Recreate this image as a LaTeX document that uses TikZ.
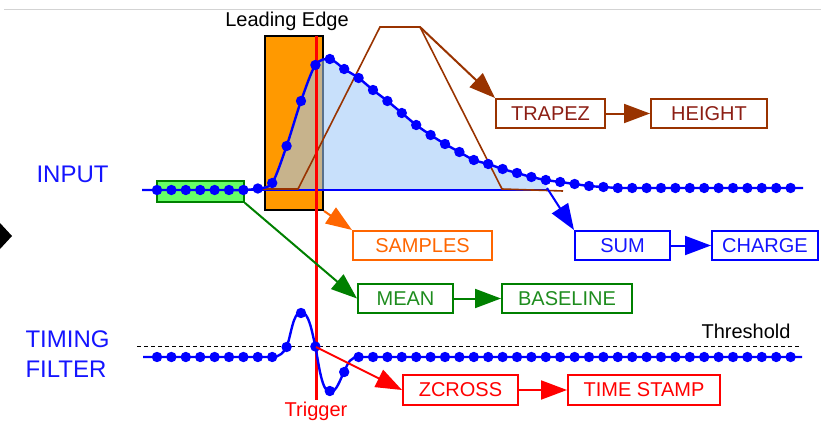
\documentclass[tikz,border=0pt]{standalone}
\usepackage{fontspec}
\setmainfont{Liberation Sans}
\usetikzlibrary{arrows.meta}
\definecolor{sigblue}{RGB}{0,0,255}
\definecolor{txtblue}{RGB}{20,20,255}
\definecolor{areablue}{RGB}{157,200,248}
\definecolor{leadorange}{RGB}{255,153,0}
\definecolor{arrorange}{RGB}{255,102,0}
\definecolor{trapbrown}{RGB}{153,51,0}
\definecolor{traptext}{RGB}{140,30,20}
\definecolor{meangreen}{RGB}{0,128,0}
\definecolor{meantext}{RGB}{30,140,30}
\definecolor{winfill}{RGB}{102,255,102}
\definecolor{rulegray}{RGB}{211,211,211}
\begin{document}
\begin{tikzpicture}[x=1pt,y=-1pt,
  box/.style={draw, line width=2pt, inner sep=0pt, minimum height=29pt,
              font=\fontsize{20}{22}\selectfont},
  link/.style={line width=2pt, -{Triangle[length=26pt,width=19pt]}},
  biglabel/.style={anchor=west, text=txtblue, font=\fontsize{24}{26}\selectfont},
  smalllabel/.style={font=\fontsize{20}{22}\selectfont},
  sig/.style={sigblue, line width=2.4pt},
  dotr/.style={radius=5.2pt},
]
\useasboundingbox (0,0) rectangle (821,420);

% frame rule and side marker
\draw[rulegray, line width=1.5pt] (4,9.5) -- (821,9.5);
\fill (0,223) -- (12,236) -- (0,249) -- cycle;

% channel names
\node[biglabel] (inputlbl) at (33,174) {INPUT};
\node[biglabel] (timinglbl) at (22,339) {TIMING};
\node[biglabel] (filterlbl) at (22,369) {FILTER};

% leading edge window
\node[draw, line width=2pt, fill=leadorange, minimum width=58pt, minimum height=174pt,
      inner sep=0pt] (lead) at (294,123) {};
\node[smalllabel] (leadlbl) at (287,21) {Leading Edge};

% integrated area under the pulse
\fill[areablue, fill opacity=0.565] (257.8,190)
  -- plot[smooth, tension=0.5] coordinates {(257.8,188.5) (272.2,183) (286.6,146) (301,101)
     (315.4,65) (329.8,59) (344.2,69) (358.6,78) (373,90) (387.4,101) (401.8,113)
     (416.2,125) (430.6,135) (445,144) (459.4,152) (473.8,160) (488.2,164)
     (502.6,169) (517,173) (531.4,177) (545.8,180)}
  -- (547,190) -- cycle;
\draw[sigblue, line width=1.6pt] (142,190) -- (547,190);

% trapezoidal filter
\coordinate (traptop) at (420,27);
\draw[trapbrown, line width=1.6pt] (257,189) -- (298,189) -- (380,27) -- (traptop)
  -- (502,189) -- (563,191);

% baseline window
\node[draw=meangreen, line width=1.6pt, fill=winfill, minimum width=87pt,
      minimum height=21pt, inner sep=0pt] (win) at (200.5,191.5) {};

% trigger
\draw[red, line width=3pt] (316,36) -- (316,400);
\node[smalllabel, text=red] (trig) at (316,411) {Trigger};

% threshold
\draw[black, line width=0.8pt, dash pattern=on 4pt off 3pt] (137,346) -- (800,346);
\node[smalllabel, anchor=east] (thr) at (794,331) {Threshold};

% input signal
\draw[sig] plot[smooth, tension=0.5] coordinates {(142,190) (157,190) (171.4,190)
  (185.8,190) (200.2,190) (214.6,190) (229,190) (243.4,190) (257.8,188.5)
  (272.2,183) (286.6,146) (301,101) (315.4,65) (329.8,59) (344.2,69) (358.6,78)
  (373,90) (387.4,101) (401.8,113) (416.2,125) (430.6,135) (445,144) (459.4,152)
  (473.8,160) (488.2,164) (502.6,169) (517,173) (531.4,177) (545.8,180)
  (560.2,182) (574.6,184) (589,186) (603.4,187) (617.8,188) (632.2,188)
  (803,188)};
\foreach \x/\y in {157/190, 171.4/190, 185.8/190, 200.2/190, 214.6/190, 229/190,
  243.4/190, 257.8/188.5, 272.2/183, 286.6/146, 301/101, 315.4/65, 329.8/59,
  344.2/69, 358.6/78, 373/90, 387.4/101, 401.8/113, 416.2/125, 430.6/135,
  445/144, 459.4/152, 473.8/160, 488.2/164, 502.6/169, 517/173, 531.4/177,
  545.8/180, 560.2/182, 574.6/184, 589/186, 603.4/187}
  \fill[sigblue] (\x,\y) circle[dotr];
\foreach \i in {32,...,44}
  \fill[sigblue] ({157+14.4*\i},188) circle[dotr];

% timing filter signal: flat, bipolar bump, flat
\draw[sig] (143,357) -- (272.2,357)
  .. controls (280,357) and (284,352) .. (286.6,347)
  .. controls (291,336) and (293,312) .. (301,312)
  .. controls (309,312) and (312,332) .. (315.4,346.5)
  .. controls (319,366) and (322,392) .. (330,392)
  .. controls (337,392) and (340,379) .. (344.2,372)
  .. controls (348,362) and (351,357) .. (358.6,357)
  -- (802,357);
\foreach \i in {0,...,8}
  \fill[sigblue] ({157+14.4*\i},357) circle[dotr];
\foreach \x/\y in {286.6/347, 301/313, 315.4/346.5, 329.8/391, 344.2/372}
  \fill[sigblue] (\x,\y) circle[dotr];
\foreach \i in {14,...,44}
  \fill[sigblue] ({157+14.4*\i},357) circle[dotr];

% processing blocks
\node[box, draw=trapbrown, text=traptext, minimum width=109pt] (trapez) at (550.5,113.5) {TRAPEZ};
\node[box, draw=trapbrown, text=traptext, minimum width=116pt] (height) at (709,113.5) {HEIGHT};
\node[box, draw=arrorange, text=arrorange, minimum width=139pt] (samples) at (422.5,245.5) {SAMPLES};
\node[box, draw=sigblue, text=txtblue, minimum width=95pt] (sum) at (622.5,245.5) {SUM};
\node[box, draw=sigblue, text=txtblue, minimum width=106pt] (charge) at (765,245.5) {CHARGE};
\node[box, draw=meangreen, text=meantext, minimum width=95pt] (mean) at (405.5,298.5) {MEAN};
\node[box, draw=meangreen, text=meantext, minimum width=130pt] (baseline) at (567,298.5) {BASELINE};
\node[box, draw=red, text=red, minimum width=115pt, minimum height=30pt] (zcross) at (460.5,390) {ZCROSS};
\node[box, draw=red, text=red, minimum width=152pt, minimum height=30pt] (tstamp) at (644,390) {TIME STAMP};

% connectors
\coordinate (areaend) at (547,188);
\coordinate (zc) at (316,347);
\draw[link, trapbrown] (traptop) -- (trapez.north west);
\draw[link, trapbrown] (trapez.east) -- (height.west);
\draw[link, arrorange] (lead.south east) -- (samples.north west);
\draw[link, sigblue] (areaend) -- (sum.north west);
\draw[link, sigblue] (sum.east) -- (charge.west);
\draw[link, meangreen] (win.south east) -- (mean.west);
\draw[link, meangreen] (mean.east) -- (baseline.west);
\draw[link, red] (zc) -- (zcross.west);
\draw[link, red] (zcross.east) -- (tstamp.west);
\end{tikzpicture}
\end{document}
